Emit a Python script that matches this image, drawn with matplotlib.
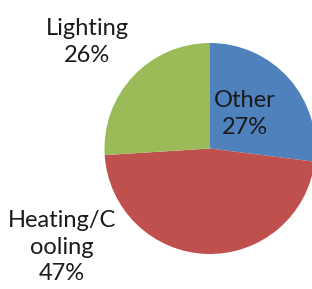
import matplotlib
matplotlib.use("Agg")
import matplotlib.pyplot as plt

categories = ["Other", "Heating/Cooling", "Lighting"]
values = [27, 47, 26]
label_texts = ["Other\n27%", "Heating/C\nooling\n47%", "Lighting\n26%"]
colors = ["#4F81BD", "#C0504D", "#9BBB59"]

W, H = 312, 289
fig = plt.figure(figsize=(W / 100, H / 100), dpi=100)
ax = fig.add_axes([0, 0, 1, 1])

ax.pie(values, colors=colors, startangle=90, counterclock=False,
       center=(210, H - 148.5), radius=105.5, frame=True,
       wedgeprops=dict(linewidth=0))
ax.set_xlim(0, W)
ax.set_ylim(0, H)
ax.set_aspect("equal")
ax.axis("off")

font = dict(family="Lato", fontsize=17, color="#1a1a1a", linespacing=1.3,
            ha="center", va="center")
ax.text(245, H - 114, label_texts[0], **font)
ax.text(62, H - 247, label_texts[1], **font)
ax.text(87, H - 42, label_texts[2], **font)

fig.savefig("out.png", dpi=100)
